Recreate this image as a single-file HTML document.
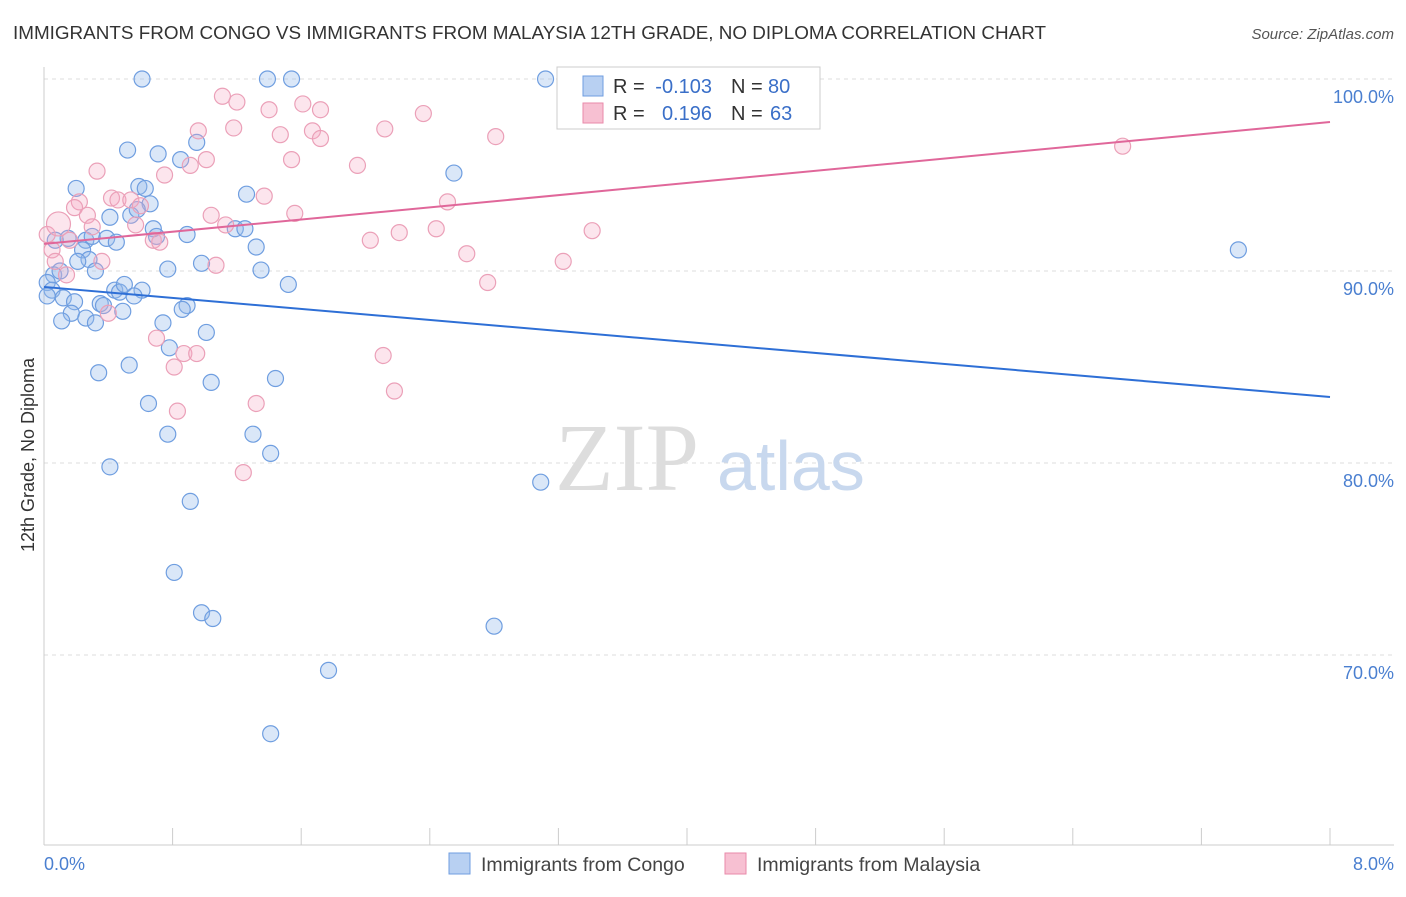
<!DOCTYPE html>
<html><head><meta charset="utf-8"><style>
body{margin:0;background:#fff;font-family:"Liberation Sans",sans-serif;}
</style></head><body>
<svg width="1406" height="892" xmlns="http://www.w3.org/2000/svg" font-family="Liberation Sans, sans-serif">
<text x="13" y="39" font-size="18.8" fill="#333" textLength="1033" lengthAdjust="spacingAndGlyphs">IMMIGRANTS FROM CONGO VS IMMIGRANTS FROM MALAYSIA 12TH GRADE, NO DIPLOMA CORRELATION CHART</text>
<text x="1394" y="39" font-size="15" fill="#555" text-anchor="end" font-style="italic">Source: ZipAtlas.com</text>
<g id="grid"></g>
<text x="555" y="490" font-size="96" fill="#ddd" font-family="Liberation Serif, serif">ZIP</text>
<text x="717" y="490" font-size="70" fill="#c8d8ee">atlas</text>
<g id="marks"></g>
<text transform="translate(34,455) rotate(-90)" font-size="18" fill="#333" text-anchor="middle">12th Grade, No Diploma</text>
<text x="44" y="870" font-size="18" fill="#4a7fd0">0.0%</text>
<text x="1394" y="870" font-size="18" fill="#4a7fd0" text-anchor="end">8.0%</text>
<g font-size="20">
<rect x="557" y="67" width="263" height="62" fill="#fff" stroke="#ccc"/>
<rect x="583" y="76" width="20" height="20" fill="#b8d0f2" stroke="#6f9ee0"/>
<rect x="583" y="103" width="20" height="20" fill="#f7c0d2" stroke="#e88aaa"/>
<text x="613" y="93" fill="#333">R =</text>
<text x="712" y="93" fill="#3a6fc8" text-anchor="end">-0.103</text>
<text x="731" y="93" fill="#333">N =</text>
<text x="768" y="93" fill="#3a6fc8">80</text>
<text x="613" y="120" fill="#333">R =</text>
<text x="712" y="120" fill="#3a6fc8" text-anchor="end">0.196</text>
<text x="731" y="120" fill="#333">N =</text>
<text x="770" y="120" fill="#3a6fc8">63</text>
</g>
<g>
<rect x="449" y="853" width="21" height="21" fill="#b8d0f2" stroke="#6f9ee0"/>
<text x="481" y="871" font-size="19.5" fill="#444">Immigrants from Congo</text>
<rect x="725" y="853" width="21" height="21" fill="#f7c0d2" stroke="#e88aaa"/>
<text x="757" y="871" font-size="19.5" fill="#444">Immigrants from Malaysia</text>
</g>
</svg>
<script>
const yTicks=[100,90,80,70];
const yTickLabels=["100.0%","90.0%","80.0%","70.0%"];
const congoX=[0.61,1.39,1.54,3.12,0.52,0.71,0.85,0.95,0.20,0.59,0.63,1.26,0.66,0.41,0.54,0.58,0.68,0.70,0.89,1.19,1.25,1.32,2.55,0.15,0.26,0.30,0.39,0.45,0.07,0.24,0.28,0.21,0.32,0.77,0.98,1.35,1.52,0.06,0.10,0.02,0.05,0.02,0.12,0.19,0.35,0.37,0.44,0.47,0.50,0.61,0.56,0.89,0.86,0.17,0.11,0.26,0.32,0.49,0.74,1.01,0.78,0.53,0.34,1.04,1.44,0.65,0.77,1.30,1.41,0.41,3.09,0.91,0.81,0.98,1.05,2.80,1.77,1.41,7.43];
const congoY=[100,100,100,100,96.3,96.1,95.8,96.7,94.3,94.4,94.3,94.0,93.5,92.8,92.9,93.2,92.2,91.8,91.9,92.2,92.2,91.25,95.1,91.7,91.6,91.8,91.7,91.5,91.6,91.1,90.6,90.5,90.0,90.1,90.4,90.05,89.3,89.8,90.0,89.4,89.0,88.7,88.6,88.4,88.3,88.2,89.0,88.9,89.3,89.0,88.7,88.2,88.0,87.8,87.4,87.55,87.3,87.9,87.3,86.8,86.0,85.1,84.7,84.2,84.4,83.1,81.5,81.5,80.5,79.8,79.0,78.0,74.3,72.2,71.9,71.5,69.2,65.9,91.1];
const malX=[0.05,0.07,0.14,0.33,0.22,0.19,0.27,0.30,0.42,0.46,0.54,0.60,0.57,0.68,0.72,0.75,0.91,0.96,1.01,1.11,1.20,1.18,1.40,1.47,1.54,1.61,1.72,1.67,1.72,1.37,1.56,1.04,1.13,1.95,2.12,2.36,2.81,2.51,2.44,2.21,2.03,2.63,3.23,3.41,2.76,0.36,0.40,0.70,0.81,0.87,0.95,0.83,1.32,1.24,2.11,2.18,1.07,6.71,0.16,0.02,0.09];
const malY=[91.1,90.5,89.8,95.2,93.6,93.3,92.9,92.3,93.8,93.7,93.7,93.4,92.4,91.6,91.5,95.0,95.5,97.3,95.8,99.1,98.8,97.45,98.4,97.1,95.8,98.7,98.4,97.3,96.9,93.9,93.0,92.9,92.4,95.5,97.4,98.2,97.0,93.6,92.2,92.0,91.6,90.9,90.5,92.1,89.4,90.5,87.8,86.5,85.0,85.7,85.7,82.7,83.1,79.5,85.6,83.75,90.3,96.5,91.6,91.9,92.45];
const malR=[8,8,8,8,8,8,8,8,8,8,8,8,8,8,8,8,8,8,8,8,8,8,8,8,8,8,8,8,8,8,8,8,8,8,8,8,8,8,8,8,8,8,8,8,8,8,8,8,8,8,8,8,8,8,8,8,8,8,8,8,12];
const congoTrend=[89.17,83.44];
const malTrend=[91.41,97.76];
const NS="http://www.w3.org/2000/svg";
const sx=v=>44+v*160.75, sy=v=>79+(100-v)*19.2;
function mk(t,a,p){const e=document.createElementNS(NS,t);for(const k in a)e.setAttribute(k,a[k]);p.appendChild(e);return e;}
const grid=document.getElementById('grid'), marks=document.getElementById('marks');
yTicks.forEach((t,i)=>{
 const l=mk('line',{x1:44,x2:1394,y1:sy(t),y2:sy(t),stroke:'#ddd','stroke-dasharray':'4,4'},grid);
 
 
 const tx=mk('text',{x:1394,y:sy(t)+24,'font-size':18,fill:'#4a7fd0','text-anchor':'end'},grid);
 tx.textContent=yTickLabels[i];
 
 
});
const ax=mk('line',{x1:44,x2:44,y1:67,y2:845,stroke:'#ccc'},grid);


const bx=mk('line',{x1:44,x2:1394,y1:845,y2:845,stroke:'#ccc'},grid);


for(let i=0;i<=10;i++){const t=mk('line',{x1:sx(i*0.8),x2:sx(i*0.8),y1:828,y2:845,stroke:'#ccc'},grid);
 
 }
congoX.forEach((x,i)=>{const c=mk('circle',{cx:sx(x),cy:sy(congoY[i]),r:8,fill:'rgba(150,185,235,0.35)',stroke:'#6f9ee0','stroke-width':1.2},marks);
 
 });
malX.forEach((x,i)=>{const c=mk('circle',{cx:sx(x),cy:sy(malY[i]),r:malR[i],fill:'rgba(245,170,195,0.3)',stroke:'#eba0b8','stroke-width':1.2},marks);
 
 });
const l1=mk('line',{x1:sx(0),y1:sy(congoTrend[0]),x2:sx(8),y2:sy(congoTrend[1]),stroke:'#2e6fd6','stroke-width':2},marks);


const l2=mk('line',{x1:sx(0),y1:sy(malTrend[0]),x2:sx(8),y2:sy(malTrend[1]),stroke:'#e0679a','stroke-width':2},marks);


</script>
</body></html>
